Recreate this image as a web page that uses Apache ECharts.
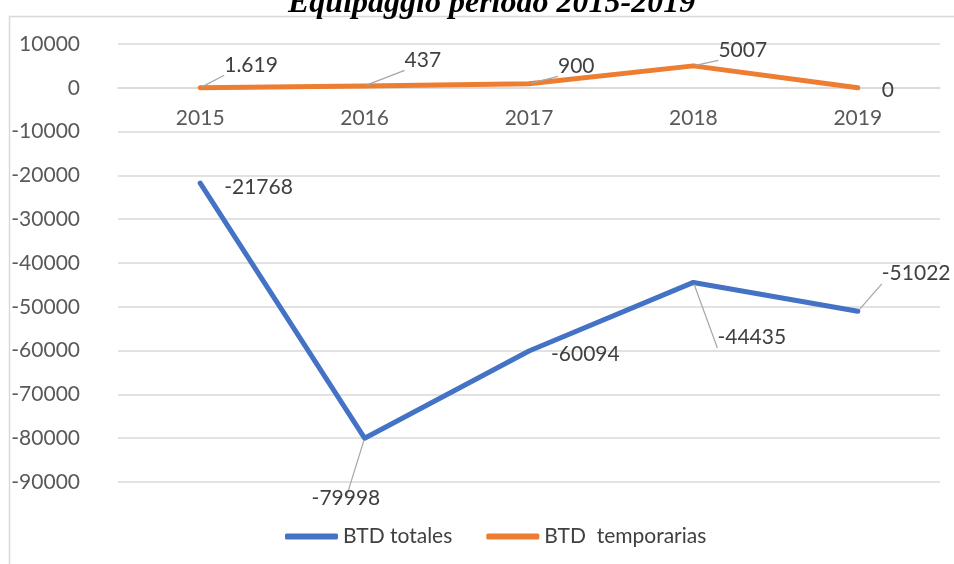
<!DOCTYPE html>
<html>
<head>
    <meta charset="utf-8">
    <title>Equipaggio periodo 2015-2019</title>
    <script type="text/javascript" src="https://cdn.jsdelivr.net/npm/echarts@6/dist/echarts.min.js"></script>
</head>
<style type="text/css">
    body { margin: 0; background: #fff; }
    #chart { width: 954px; height: 564px; }
</style>
<body>
    <div id="chart"></div>
    <script type="text/javascript">
        var years = ['2015', '2016', '2017', '2018', '2019'];
        var btdTotales = [-21768, -79998, -60094, -44435, -51022];
        var btdTemporarias = [1.619, 437, 900, 5007, 0];
        var yTicks = { min: -90000, max: 10000, step: 10000 };

        // where each data label sits relative to its point (Excel style leader lines)
        var totalesOffsets = [[17, 4], [-60, 60], [15, 3], [17, 55], [17, -38]];
        var temporariasOffsets = [[17, -23], [33, -26], [22, -18], [18, -16], [17, 2]];
        var totalesLeader = [false, true, false, true, true];
        var temporariasLeader = [true, true, true, true, false];

        var labelFont = { fontFamily: 'Lato', fontSize: 21, color: '#404040' };

        function withLabels(values, offsets, leader) {
            return values.map(function(v, i) {
                return {
                    value: v,
                    label: { position: 'right', offset: offsets[i] },
                    labelLine: { show: leader[i] }
                };
            });
        }

        var chart = echarts.init(document.getElementById('chart'));

        var option = {
            animation: false,
            title: {
                text: 'Equipaggio periodo 2015-2019',
                left: 283,
                top: -17,
                textStyle: {
                    fontFamily: 'Liberation Serif',
                    fontStyle: 'italic',
                    fontWeight: 'bold',
                    fontSize: 32,
                    color: '#000'
                }
            },
            graphic: [{
                type: 'rect',
                left: 7,
                top: 14,
                shape: { width: 960, height: 560 },
                style: { fill: 'none', stroke: '#d9d9d9', lineWidth: 1.5 },
                silent: true
            }],
            legend: {
                bottom: 12,
                left: 280,
                itemWidth: 53,
                itemHeight: 6,
                itemGap: 34,
                icon: 'roundRect',
                textStyle: labelFont,
                data: ['BTD totales', 'BTD  temporarias']
            },
            grid: {
                left: 118,
                right: 14,
                top: 44,
                bottom: 82
            },
            xAxis: {
                type: 'category',
                data: years,
                // sit the category axis on the zero line, like Excel does
                offset: -394,
                axisLine: { show: true, onZero: false, lineStyle: { color: '#d9d9d9', width: 1.5 } },
                axisTick: { show: false },
                axisLabel: { margin: 20, fontFamily: 'Lato', fontSize: 21, color: '#595959' }
            },
            yAxis: {
                type: 'value',
                min: yTicks.min,
                max: yTicks.max,
                interval: yTicks.step,
                axisLine: { show: false },
                axisTick: { show: false },
                splitLine: { lineStyle: { color: '#d9d9d9', width: 1.5 } },
                axisLabel: {
                    margin: 38, fontFamily: 'Lato', fontSize: 21, color: '#595959',
                    formatter: function(v) { return String(v); }
                }
            },
            series: [{
                name: 'BTD totales',
                type: 'line',
                data: withLabels(btdTotales, totalesOffsets, totalesLeader),
                symbol: 'circle',
                symbolSize: 4,
                color: '#4472C4',
                lineStyle: { width: 5, cap: 'round', join: 'round' },
                label: Object.assign({ show: true }, labelFont),
                labelLine: { show: true, lineStyle: { color: '#a6a6a6', width: 1.2 } }
            }, {
                name: 'BTD  temporarias',
                type: 'line',
                data: withLabels(btdTemporarias, temporariasOffsets, temporariasLeader),
                symbol: 'circle',
                symbolSize: 4,
                color: '#ED7D31',
                lineStyle: { width: 5, cap: 'round', join: 'round' },
                label: Object.assign({ show: true }, labelFont),
                labelLine: { show: true, lineStyle: { color: '#a6a6a6', width: 1.2 } }
            }]
        };
        chart.setOption(option);
    </script>
</body>
</html>
